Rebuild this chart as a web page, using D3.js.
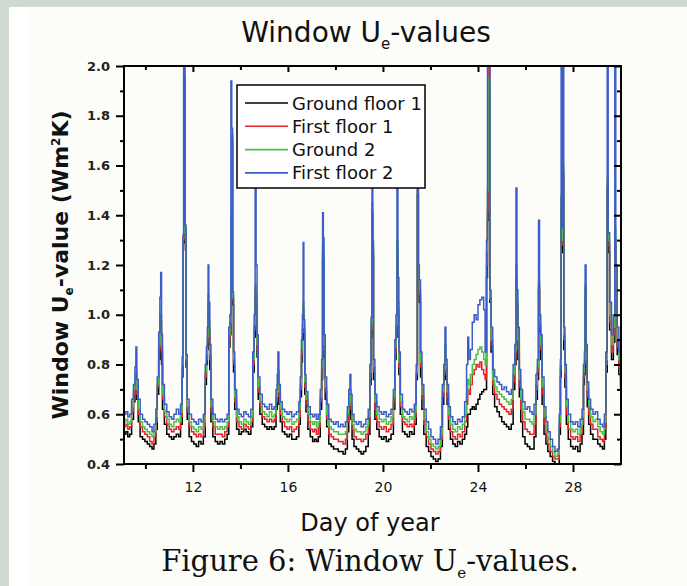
<!DOCTYPE html>
<html><head><meta charset="utf-8">
<script src="https://cdn.jsdelivr.net/npm/d3@7/dist/d3.min.js"></script>
<style>body{margin:0;background:#cfd9d1;}svg{display:block;}</style>
</head><body>
<script>
// ---- data ----
const days = [9.10,9.18,9.26,9.34,9.42,9.50,9.56,9.60,9.64,9.70,9.78,9.88,9.98,10.08,10.18,10.28,10.36,10.44,10.50,10.56,10.61,10.645,10.68,10.72,10.80,10.90,11.00,11.10,11.20,11.30,11.40,11.48,11.55,11.58,11.61,11.64,11.67,11.71,11.76,11.84,11.94,12.04,12.14,12.24,12.34,12.44,12.52,12.57,12.61,12.64,12.67,12.71,12.76,12.84,12.94,13.04,13.14,13.24,13.34,13.44,13.51,13.56,13.60,13.635,13.67,13.71,13.76,13.84,13.94,14.04,14.14,14.24,14.34,14.44,14.52,14.58,14.62,14.66,14.70,14.75,14.82,14.92,15.02,15.12,15.22,15.32,15.42,15.50,15.55,15.58,15.62,15.68,15.76,15.86,15.96,16.06,16.16,16.26,16.36,16.46,16.52,16.57,16.61,16.64,16.67,16.71,16.76,16.84,16.94,17.04,17.12,17.20,17.28,17.36,17.42,17.46,17.49,17.52,17.57,17.63,17.72,17.82,17.92,18.02,18.12,18.22,18.32,18.42,18.50,18.56,18.61,18.65,18.70,18.78,18.88,18.98,19.08,19.18,19.28,19.38,19.45,19.50,19.54,19.57,19.60,19.66,19.74,19.84,19.94,20.04,20.14,20.24,20.34,20.44,20.50,20.55,20.59,20.63,20.67,20.73,20.82,20.92,21.02,21.12,21.22,21.32,21.40,21.45,21.49,21.53,21.58,21.64,21.72,21.82,21.92,22.02,22.12,22.22,22.32,22.42,22.50,22.56,22.61,22.65,22.70,22.76,22.84,22.94,23.04,23.14,23.24,23.34,23.44,23.52,23.57,23.61,23.68,23.76,23.84,23.92,24.00,24.08,24.16,24.24,24.30,24.36,24.40,24.46,24.50,24.55,24.62,24.70,24.80,24.90,25.00,25.10,25.20,25.30,25.40,25.48,25.55,25.60,25.64,25.68,25.74,25.80,25.88,25.98,26.08,26.18,26.28,26.36,26.44,26.50,26.55,26.59,26.64,26.70,26.78,26.86,26.94,27.04,27.14,27.24,27.34,27.42,27.47,27.50,27.54,27.57,27.61,27.66,27.72,27.80,27.90,28.00,28.10,28.20,28.30,28.38,28.44,28.48,28.51,28.55,28.60,28.66,28.74,28.84,28.94,29.04,29.14,29.24,29.32,29.38,29.44,29.48,29.54,29.62,29.70,29.76,29.80,29.86,29.93,30.00];

const firstFloor2 = [0.60,0.61,0.59,0.60,0.66,0.72,0.79,0.87,0.74,0.66,0.60,0.58,0.57,0.56,0.55,0.53,0.56,0.62,0.75,0.93,1.07,1.17,0.92,0.72,0.64,0.61,0.59,0.58,0.60,0.62,0.60,0.64,0.83,1.32,2.10,2.10,1.36,0.84,0.66,0.60,0.58,0.57,0.56,0.58,0.57,0.60,0.80,0.87,0.95,1.20,1.05,0.88,0.66,0.60,0.58,0.57,0.58,0.57,0.58,0.60,0.95,1.00,1.94,1.75,1.09,0.85,0.70,0.62,0.60,0.59,0.61,0.60,0.59,0.62,0.85,1.00,1.51,1.20,0.92,0.75,0.68,0.64,0.63,0.62,0.64,0.62,0.63,0.70,0.76,0.85,0.72,0.65,0.62,0.61,0.60,0.61,0.59,0.60,0.61,0.65,0.75,0.90,1.00,1.29,0.98,0.76,0.69,0.63,0.60,0.59,0.60,0.58,0.60,0.70,0.82,1.41,1.31,0.92,0.75,0.64,0.58,0.57,0.56,0.57,0.55,0.56,0.55,0.57,0.63,0.70,0.76,0.68,0.60,0.57,0.56,0.57,0.55,0.56,0.58,0.62,0.80,0.99,1.62,1.30,0.82,0.68,0.63,0.61,0.60,0.61,0.59,0.60,0.62,0.70,0.90,1.00,1.62,1.15,0.85,0.68,0.62,0.61,0.60,0.62,0.61,0.64,0.80,1.62,1.20,1.14,0.85,0.72,0.62,0.57,0.54,0.51,0.50,0.48,0.50,0.55,0.72,0.80,0.95,0.82,0.72,0.63,0.59,0.57,0.56,0.58,0.57,0.59,0.65,0.80,0.91,0.82,0.86,0.97,1.00,0.98,1.04,1.06,1.07,1.02,0.85,1.30,2.10,2.10,1.10,0.95,0.78,0.75,0.73,0.72,0.70,0.71,0.69,0.68,0.70,0.80,0.88,1.51,1.10,0.95,0.78,0.70,0.65,0.62,0.63,0.61,0.60,0.64,0.76,0.82,1.38,1.00,0.92,0.75,0.63,0.57,0.53,0.50,0.47,0.45,0.46,0.60,0.82,2.10,1.35,2.10,0.95,0.80,0.66,0.60,0.57,0.56,0.57,0.55,0.58,0.62,0.80,0.85,1.20,0.88,0.73,0.66,0.62,0.60,0.61,0.58,0.56,0.55,0.60,0.85,2.10,1.33,1.05,0.92,1.00,2.10,1.20,0.95,0.85,0.80];

const ground2 = [0.57,0.58,0.56,0.57,0.63,0.70,0.75,0.78,0.70,0.62,0.57,0.55,0.54,0.53,0.52,0.51,0.53,0.59,0.72,0.88,1.00,1.00,0.87,0.68,0.61,0.58,0.56,0.55,0.57,0.58,0.57,0.61,0.80,1.30,1.33,1.96,1.35,0.82,0.63,0.57,0.55,0.54,0.53,0.55,0.54,0.57,0.77,0.84,0.91,1.08,0.98,0.84,0.63,0.57,0.55,0.54,0.55,0.54,0.55,0.57,0.92,0.97,1.40,1.73,1.07,0.82,0.67,0.59,0.57,0.56,0.58,0.57,0.56,0.59,0.82,0.96,1.12,1.08,0.88,0.71,0.65,0.61,0.60,0.59,0.61,0.59,0.60,0.67,0.72,0.78,0.69,0.62,0.59,0.58,0.57,0.58,0.56,0.57,0.58,0.62,0.72,0.86,0.96,1.05,0.95,0.73,0.66,0.60,0.57,0.56,0.57,0.55,0.57,0.67,0.79,1.28,1.24,0.88,0.71,0.60,0.55,0.54,0.53,0.53,0.52,0.52,0.52,0.53,0.60,0.66,0.70,0.64,0.56,0.54,0.53,0.53,0.52,0.53,0.55,0.59,0.77,0.96,1.45,1.28,0.79,0.65,0.60,0.58,0.57,0.58,0.56,0.57,0.59,0.67,0.87,0.96,1.30,1.05,0.81,0.65,0.59,0.58,0.57,0.59,0.58,0.61,0.77,1.52,1.15,1.10,0.81,0.68,0.58,0.53,0.50,0.48,0.47,0.46,0.47,0.52,0.69,0.78,0.88,0.79,0.69,0.60,0.56,0.54,0.53,0.55,0.54,0.56,0.60,0.68,0.74,0.72,0.76,0.80,0.82,0.84,0.86,0.87,0.85,0.82,0.80,1.25,1.50,1.95,1.07,0.90,0.74,0.71,0.69,0.68,0.67,0.66,0.65,0.64,0.66,0.76,0.85,1.20,1.06,0.90,0.74,0.66,0.61,0.58,0.58,0.57,0.56,0.60,0.72,0.79,1.14,0.97,0.88,0.71,0.59,0.54,0.50,0.47,0.45,0.43,0.44,0.57,0.80,1.48,1.30,1.60,0.92,0.77,0.63,0.57,0.54,0.53,0.54,0.52,0.55,0.59,0.77,0.82,1.12,0.84,0.70,0.63,0.59,0.57,0.58,0.55,0.53,0.52,0.57,0.82,1.55,1.30,1.00,0.88,0.95,1.35,1.15,0.90,0.82,0.77];

const firstFloor1 = [0.55,0.56,0.54,0.55,0.61,0.68,0.73,0.76,0.68,0.60,0.55,0.53,0.52,0.51,0.49,0.48,0.51,0.57,0.71,0.86,0.98,0.97,0.85,0.66,0.59,0.56,0.54,0.53,0.54,0.55,0.54,0.59,0.78,1.28,1.31,1.95,1.34,0.81,0.61,0.55,0.53,0.52,0.51,0.52,0.51,0.55,0.75,0.82,0.89,1.05,0.95,0.82,0.61,0.55,0.52,0.52,0.52,0.51,0.53,0.55,0.90,0.95,1.35,1.72,1.06,0.80,0.65,0.57,0.55,0.54,0.56,0.55,0.54,0.57,0.80,0.94,1.10,1.05,0.86,0.69,0.63,0.59,0.58,0.57,0.58,0.57,0.58,0.65,0.70,0.76,0.67,0.60,0.57,0.55,0.54,0.55,0.53,0.54,0.55,0.59,0.70,0.84,0.94,1.02,0.93,0.71,0.64,0.57,0.54,0.53,0.54,0.52,0.55,0.65,0.77,1.25,1.22,0.86,0.69,0.58,0.52,0.51,0.50,0.50,0.49,0.49,0.48,0.50,0.57,0.64,0.68,0.62,0.54,0.51,0.50,0.50,0.49,0.50,0.52,0.56,0.75,0.94,1.42,1.26,0.77,0.62,0.57,0.55,0.54,0.55,0.53,0.54,0.56,0.65,0.85,0.94,1.27,1.02,0.79,0.63,0.57,0.56,0.55,0.56,0.55,0.59,0.76,1.50,1.13,1.08,0.79,0.66,0.56,0.51,0.48,0.46,0.45,0.44,0.45,0.50,0.67,0.76,0.83,0.77,0.67,0.58,0.53,0.51,0.50,0.52,0.51,0.53,0.57,0.64,0.70,0.68,0.72,0.76,0.78,0.80,0.79,0.81,0.78,0.76,0.74,1.20,1.42,2.05,1.06,0.88,0.72,0.68,0.66,0.64,0.63,0.62,0.61,0.60,0.62,0.73,0.83,1.15,1.04,0.86,0.71,0.62,0.57,0.54,0.53,0.52,0.52,0.56,0.70,0.77,1.12,0.95,0.86,0.68,0.56,0.51,0.48,0.45,0.43,0.42,0.42,0.55,0.78,1.47,1.28,1.57,0.90,0.75,0.60,0.54,0.51,0.50,0.51,0.49,0.52,0.56,0.75,0.80,1.10,0.82,0.67,0.60,0.56,0.54,0.54,0.51,0.50,0.49,0.54,0.80,1.52,1.28,0.97,0.85,0.92,1.31,1.12,0.87,0.79,0.74];

const groundFloor1 = [0.52,0.53,0.51,0.52,0.58,0.65,0.70,0.72,0.66,0.57,0.51,0.50,0.49,0.48,0.47,0.46,0.48,0.54,0.68,0.82,0.95,0.93,0.80,0.62,0.56,0.52,0.51,0.50,0.51,0.52,0.51,0.56,0.75,1.26,1.29,1.93,1.33,0.79,0.58,0.51,0.49,0.48,0.47,0.49,0.48,0.51,0.72,0.80,0.86,1.02,0.92,0.78,0.57,0.51,0.49,0.48,0.49,0.48,0.50,0.52,0.87,0.92,1.30,1.70,1.04,0.77,0.62,0.54,0.52,0.53,0.54,0.53,0.52,0.55,0.77,0.91,1.07,1.02,0.83,0.66,0.60,0.56,0.55,0.54,0.55,0.54,0.55,0.62,0.67,0.72,0.64,0.57,0.53,0.52,0.51,0.52,0.50,0.50,0.51,0.56,0.67,0.81,0.91,1.00,0.90,0.68,0.61,0.54,0.51,0.49,0.50,0.49,0.51,0.62,0.74,1.22,1.19,0.83,0.66,0.55,0.48,0.47,0.46,0.46,0.45,0.45,0.44,0.46,0.53,0.60,0.63,0.58,0.50,0.47,0.46,0.45,0.44,0.45,0.47,0.52,0.72,0.91,1.40,1.24,0.74,0.58,0.54,0.51,0.50,0.51,0.49,0.50,0.52,0.62,0.82,0.91,1.25,1.00,0.76,0.60,0.53,0.52,0.51,0.53,0.52,0.56,0.74,1.48,1.10,1.05,0.75,0.62,0.52,0.47,0.45,0.43,0.42,0.41,0.42,0.47,0.64,0.74,0.80,0.74,0.64,0.54,0.50,0.48,0.47,0.49,0.48,0.50,0.52,0.55,0.60,0.60,0.62,0.63,0.62,0.64,0.66,0.68,0.69,0.70,0.70,1.15,1.38,1.90,1.05,0.85,0.68,0.63,0.61,0.59,0.57,0.56,0.55,0.54,0.56,0.70,0.80,1.12,1.02,0.82,0.67,0.57,0.51,0.48,0.47,0.46,0.46,0.51,0.66,0.74,1.10,0.93,0.82,0.64,0.52,0.48,0.45,0.43,0.41,0.40,0.40,0.52,0.75,1.42,1.25,1.55,0.86,0.71,0.56,0.50,0.47,0.46,0.47,0.45,0.48,0.52,0.72,0.76,1.07,0.79,0.63,0.56,0.52,0.50,0.50,0.48,0.47,0.46,0.50,0.77,1.50,1.25,0.94,0.82,0.89,1.28,1.08,0.84,0.76,0.71];

const seriesNames = ["Ground floor 1", "First floor 1", "Ground 2", "First floor 2"];
const seriesColors = ["#000000", "#e3242b", "#4fbf4a", "#3b5cc9"];
const xTicks = [12, 16, 20, 24, 28];
const xMinorTicks = [10, 14, 18, 22, 26];
const yTicks = [0.4, 0.6, 0.8, 1.0, 1.2, 1.4, 1.6, 1.8, 2.0];
const yMinorTicks = [0.5, 0.7, 0.9, 1.1, 1.3, 1.5, 1.7, 1.9];

// ---- drawing ----
const W = 687, H = 586;
const svg = d3.select("body").append("svg").attr("width", W).attr("height", H);
svg.append("rect").attr("x", 0).attr("y", 0).attr("width", W).attr("height", H).attr("fill", "#cfd9d1");
svg.append("rect").attr("x", 9).attr("y", 7).attr("width", W - 9).attr("height", H - 7).attr("fill", "#ffffff");
svg.append("rect").attr("x", 27).attr("y", 7).attr("width", W - 27).attr("height", H - 7).attr("fill", "#fcfdf8");

const m = {left: 124, top: 66, right: 621, bottom: 464};
const x = d3.scaleLinear().domain([9.1, 30.02]).range([m.left, m.right]);
const y = d3.scaleLinear().domain([0.4, 2.0]).range([m.bottom, m.top]);

svg.append("clipPath").attr("id", "clip").append("rect")
  .attr("x", m.left).attr("y", m.top).attr("width", m.right - m.left).attr("height", m.bottom - m.top);

const seriesData = [groundFloor1, firstFloor1, ground2, firstFloor2];
const line = d3.line().x((d, i) => x(days[i])).y(d => y(d)).curve(d3.curveStepAfter);
const plot = svg.append("g").attr("clip-path", "url(#clip)");
[0, 1, 2, 3].forEach(k => {
  plot.append("path").datum(seriesData[k]).attr("d", line)
    .attr("fill", "none").attr("stroke", seriesColors[k]).attr("stroke-width", 1.5);
});

// axes
const tickStyle = s => s.selectAll("line").attr("stroke", "#000").attr("stroke-width", 2);
const addAxis = (axis, tx, ty) => {
  const a = svg.append("g").attr("transform", `translate(${tx},${ty})`).call(axis);
  a.select(".domain").remove();
  a.call(tickStyle);
  return a;
};
const bottomAx = addAxis(d3.axisBottom(x).tickValues(xTicks).tickSize(8).tickFormat(d3.format("d")).tickPadding(10), 0, m.bottom);
bottomAx.selectAll("text").attr("font-family", "DejaVu Sans").attr("font-size", 14).attr("fill", "#111");
addAxis(d3.axisBottom(x).tickValues(xMinorTicks).tickSize(5).tickFormat(""), 0, m.bottom);
addAxis(d3.axisBottom(x).tickValues(xTicks).tickSize(6).tickFormat(""), 0, m.top);
addAxis(d3.axisBottom(x).tickValues(xMinorTicks).tickSize(4).tickFormat(""), 0, m.top);
const leftAx = addAxis(d3.axisLeft(y).tickValues(yTicks).tickSize(8).tickFormat(d3.format(".1f")).tickPadding(6), m.left, 0);
leftAx.selectAll("text").attr("font-family", "DejaVu Sans").attr("font-weight", "bold").attr("font-size", 13).attr("fill", "#222");
addAxis(d3.axisLeft(y).tickValues(yMinorTicks).tickSize(4).tickFormat(""), m.left, 0);
addAxis(d3.axisLeft(y).tickValues(yTicks).tickSize(7).tickFormat(""), m.right, 0);
addAxis(d3.axisLeft(y).tickValues(yMinorTicks).tickSize(4).tickFormat(""), m.right, 0);

svg.append("rect").attr("x", m.left).attr("y", m.top).attr("width", m.right - m.left).attr("height", m.bottom - m.top)
  .attr("fill", "none").attr("stroke", "#000").attr("stroke-width", 2);

// legend
const lg = svg.append("g");
lg.append("rect").attr("x", 237).attr("y", 85).attr("width", 188).attr("height", 103)
  .attr("fill", "#fff").attr("stroke", "#000").attr("stroke-width", 1.5);
seriesNames.forEach((n, i) => {
  const yy = 103 + i * 23.3;
  lg.append("line").attr("x1", 245).attr("x2", 288).attr("y1", yy).attr("y2", yy)
    .attr("stroke", seriesColors[i]).attr("stroke-width", 1.6);
  lg.append("text").attr("x", 292).attr("y", yy + 6.5).text(n)
    .attr("font-family", "DejaVu Sans").attr("font-size", 18).attr("fill", "#111");
});

// titles
const title = svg.append("text").attr("x", 366).attr("y", 42).attr("text-anchor", "middle")
  .attr("font-family", "DejaVu Sans").attr("font-size", 28).attr("fill", "#111");
title.append("tspan").text("Window U");
title.append("tspan").attr("font-size", 15).attr("dy", 7).text("e");
title.append("tspan").attr("dy", -7).text("-values");

svg.append("text").attr("x", 370).attr("y", 531).attr("text-anchor", "middle")
  .attr("font-family", "DejaVu Sans").attr("font-size", 24).attr("fill", "#111").text("Day of year");

const cap = svg.append("text").attr("x", 370).attr("y", 571).attr("text-anchor", "middle")
  .attr("font-family", "DejaVu Serif").attr("font-size", 29).attr("fill", "#111");
cap.append("tspan").text("Figure 6: Window U");
cap.append("tspan").attr("font-size", 15).attr("dy", 7).text("e");
cap.append("tspan").attr("dy", -7).text("-values.");

const yl = svg.append("text").attr("transform", "translate(68,265) rotate(-90)").attr("text-anchor", "middle")
  .attr("font-family", "DejaVu Sans").attr("font-weight", "bold").attr("font-size", 22).attr("fill", "#111");
yl.append("tspan").text("Window U");
yl.append("tspan").attr("font-size", 12).attr("dy", 5).text("e");
yl.append("tspan").attr("dy", -5).text("-value (Wm");
yl.append("tspan").attr("font-size", 12).attr("dy", -8).text("2");
yl.append("tspan").attr("dy", 8).text("K)");
</script>
</body></html>
